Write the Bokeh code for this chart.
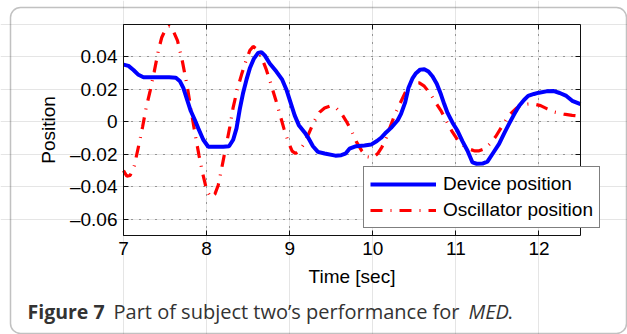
from bokeh.plotting import figure
from bokeh.models import (FixedTicker, LinearAxis, Legend, LegendItem, Label, Grid,
                          BoxAnnotation, ColumnDataSource, Range1d)
from bokeh.embed import file_html
from bokeh.resources import INLINE

# ---------------- data ----------------
device_t = [7.00, 7.06, 7.12, 7.18, 7.24, 7.40, 7.55, 7.63, 7.68, 7.72, 7.77, 7.81,
            7.86, 7.90, 7.96, 8.02, 8.10, 8.20, 8.27, 8.32, 8.36, 8.40, 8.44, 8.48,
            8.52, 8.57, 8.62, 8.66, 8.70, 8.76, 8.84, 8.91, 8.96, 9.01, 9.06, 9.11,
            9.18, 9.22, 9.28, 9.34, 9.42, 9.55, 9.62, 9.67, 9.72, 9.80, 9.90, 9.98,
            10.05, 10.10, 10.16, 10.22, 10.30, 10.34, 10.39, 10.43, 10.48, 10.52,
            10.57, 10.62, 10.67, 10.72, 10.77, 10.82, 10.86, 10.90, 10.96, 11.02,
            11.08, 11.14, 11.20, 11.25, 11.32, 11.38, 11.45, 11.52, 11.58, 11.64,
            11.70, 11.76, 11.82, 11.87, 11.94, 12.00, 12.09, 12.18, 12.25, 12.33,
            12.40, 12.50]
device_pos = [0.0353, 0.0345, 0.032, 0.029, 0.0275, 0.0275, 0.0275, 0.0272, 0.025,
              0.021, 0.013, 0.0067, 0.001, -0.004, -0.011, -0.0153, -0.0153, -0.0153,
              -0.0150, -0.011, -0.004, 0.008, 0.018, 0.026, 0.033, 0.039, 0.0425,
              0.043, 0.041, 0.036, 0.031, 0.026, 0.020, 0.012, 0.004, -0.002, -0.0065,
              -0.0095, -0.015, -0.0185, -0.0195, -0.0208, -0.0205, -0.0196, -0.0165,
              -0.0150, -0.0145, -0.014, -0.0118, -0.0098, -0.0065, -0.0037, 0.001,
              0.0049, 0.012, 0.021, 0.027, 0.030, 0.0322, 0.0324, 0.031, 0.028,
              0.0235, 0.017, 0.011, 0.0055, -0.0005, -0.0055, -0.012, -0.0178, -0.025,
              -0.0258, -0.0257, -0.0245, -0.019, -0.0135, -0.0072, -0.0012, 0.0045,
              0.0098, 0.0135, 0.016, 0.0172, 0.018, 0.0188, 0.019, 0.0178, 0.016,
              0.013, 0.011]

osc_t = [7.00, 7.04, 7.08, 7.13, 7.19, 7.23, 7.27, 7.32, 7.37, 7.42, 7.46, 7.51, 7.55,
         7.59, 7.65, 7.71, 7.77, 7.82, 7.86, 7.91, 7.95, 8.00, 8.05, 8.10, 8.14, 8.18,
         8.23, 8.28, 8.32, 8.37, 8.42, 8.47, 8.52, 8.56, 8.60, 8.66, 8.72, 8.77, 8.83,
         8.88, 8.93, 8.98, 9.03, 9.07, 9.12, 9.18, 9.24, 9.30, 9.36, 9.42, 9.49, 9.55,
         9.62, 9.68, 9.74, 9.80, 9.87, 9.93, 10.00, 10.06, 10.11, 10.16, 10.21, 10.27,
         10.33, 10.39, 10.45, 10.51, 10.56, 10.62, 10.69, 10.75, 10.82, 10.88, 10.95,
         11.02, 11.09, 11.15, 11.22, 11.28, 11.35, 11.41, 11.48, 11.54, 11.60, 11.66,
         11.73, 11.80, 11.87, 11.94, 12.02, 12.10, 12.19, 12.30, 12.40, 12.50]
osc_pos = [-0.030, -0.0335, -0.033, -0.027, -0.013, -0.003, 0.008, 0.019, 0.031, 0.044,
           0.052, 0.0575, 0.059, 0.057, 0.050, 0.037, 0.021, 0.005, -0.007, -0.021,
           -0.031, -0.042, -0.0465, -0.0445, -0.039, -0.029, -0.016, -0.003, 0.009,
           0.020, 0.029, 0.037, 0.044, 0.0465, 0.045, 0.040, 0.032, 0.024, 0.014,
           0.005, -0.004, -0.012, -0.018, -0.0195, -0.0175, -0.013, -0.006, 0.001,
           0.006, 0.0085, 0.0098, 0.009, 0.0055, 0.0005, -0.005, -0.012, -0.018,
           -0.0215, -0.022, -0.0195, -0.0155, -0.010, -0.003, 0.005, 0.0115, 0.018,
           0.0225, 0.024, 0.024, 0.022, 0.0175, 0.0125, 0.007, 0.001, -0.0055, -0.011,
           -0.0145, -0.0165, -0.0178, -0.0178, -0.0165, -0.0135, -0.009, -0.004, 0.001,
           0.005, 0.0085, 0.0105, 0.011, 0.011, 0.010, 0.008, 0.006, 0.0048, 0.004,
           0.0035]

x_lim = [7, 12.5]
y_lim = [-0.07, 0.06]
x_ticks = [7, 8, 9, 10, 11, 12]
y_ticks = [-0.06, -0.04, -0.02, 0, 0.02, 0.04]
y_tick_labels = ["\u20130.06", "\u20130.04", "\u20130.02", "0", "0.02", "0.04"]
series_names = ["Device position", "Oscillator position"]
x_label = "Time [sec]"
y_label = "Position"
caption_parts = ["Figure 7", "Part of subject two\u2019s performance for", "MED", "."]

# ---------------- layout (pixels) ----------------
W, H = 627, 334
BOX_L, BOX_R, BOX_T, BOX_B = 123, 580, 24, 235   # axes box on the canvas

xs = (BOX_R - BOX_L) / (x_lim[1] - x_lim[0])
ys = (BOX_B - BOX_T) / (y_lim[1] - y_lim[0])
x_range = Range1d(x_lim[0] - BOX_L / xs, x_lim[1] + (W - BOX_R) / xs)
y_range = Range1d(y_lim[0] - (H - BOX_B) / ys, y_lim[1] + BOX_T / ys)

FONT = "Liberation Sans"
p = figure(width=W, height=H, x_range=x_range, y_range=y_range,
           x_axis_location=None, y_axis_location=None,
           min_border=0, min_border_left=0, min_border_right=0,
           min_border_top=0, min_border_bottom=0,
           output_backend="svg", toolbar_location=None)
p.background_fill_color = "white"
p.border_fill_color = "white"
p.outline_line_color = None

AX = "#111111"


def style_axis(ax, labelled):
    ax.axis_line_color = AX
    ax.axis_line_width = 1
    ax.major_tick_line_color = AX
    ax.major_tick_in = 5
    ax.major_tick_out = 0
    ax.minor_tick_line_color = None
    if labelled:
        ax.major_label_text_font = FONT
        ax.major_label_text_font_size = "19px"
        ax.major_label_text_color = "black"
        ax.axis_label_text_font = FONT
        ax.axis_label_text_font_size = "19px"
        ax.axis_label_text_font_style = "normal"
        ax.axis_label_text_color = "black"
    else:
        ax.major_label_text_color = None


xaxis = LinearAxis(ticker=FixedTicker(ticks=x_ticks), fixed_location=y_lim[0],
                   bounds=tuple(x_lim), axis_label=x_label)
yaxis = LinearAxis(ticker=FixedTicker(ticks=y_ticks), fixed_location=x_lim[0],
                   bounds=tuple(y_lim), axis_label=y_label)
top_ax = LinearAxis(ticker=FixedTicker(ticks=x_ticks), fixed_location=y_lim[1],
                    bounds=tuple(x_lim))
right_ax = LinearAxis(ticker=FixedTicker(ticks=y_ticks), fixed_location=x_lim[1],
                      bounds=tuple(y_lim))
style_axis(xaxis, True)
style_axis(yaxis, True)
style_axis(top_ax, False)
style_axis(right_ax, False)
yaxis.major_label_overrides = {v: s for v, s in zip(y_ticks, y_tick_labels)}
xaxis.major_label_standoff = 6
xaxis.axis_label_standoff = 8
yaxis.major_label_standoff = 6
yaxis.axis_label_standoff = 8
p.add_layout(xaxis, "below")
p.add_layout(yaxis, "left")
p.add_layout(top_ax, "above")
p.add_layout(right_ax, "right")

xgrid = Grid(dimension=0, ticker=FixedTicker(ticks=x_ticks), bounds=tuple(x_lim),
             cross_bounds=tuple(y_lim))
ygrid = Grid(dimension=1, ticker=FixedTicker(ticks=y_ticks), bounds=tuple(y_lim),
             cross_bounds=tuple(x_lim))
for g in (xgrid, ygrid):
    g.grid_line_color = "#444444"
    g.grid_line_dash = "1 7"
    g.grid_line_width = 1
    p.add_layout(g)

src_d = ColumnDataSource(dict(t=device_t, v=device_pos))
src_o = ColumnDataSource(dict(t=osc_t, v=osc_pos))
r_osc = p.line("t", "v", source=src_o, line_color="#ff0000", line_width=3.2,
               line_dash="12 8 1 8")
r_dev = p.line("t", "v", source=src_d, line_color="#0000ff", line_width=4)

legend = Legend(items=[LegendItem(label=series_names[0], renderers=[r_dev]),
                       LegendItem(label=series_names[1], renderers=[r_osc])],
                location=(363, H - 228), margin=0, padding=6, spacing=4,
                glyph_width=66, glyph_height=22, label_standoff=7,
                label_text_font=FONT, label_text_font_size="19px",
                label_text_color="black", border_line_color="black",
                border_line_width=1, background_fill_color="white",
                background_fill_alpha=1)
p.add_layout(legend)

# outer rounded frame (screen units: from bottom-left of canvas)
frame = BoxAnnotation(left=10, right=626, top=H - 7, bottom=H - 333,
                      left_units="screen", right_units="screen",
                      top_units="screen", bottom_units="screen",
                      fill_alpha=0, fill_color=None, line_color="#333333",
                      line_width=1.5, border_radius=10)
p.add_layout(frame)

# caption
CAP = "Open Sans"
cap_x = [27, 113, 468, 507]
cap_styles = ["bold", "normal", "italic", "normal"]
cap_sizes = ["19.5px", "20px", "20px", "20px"]
for txt, xx, st, sz in zip(caption_parts, cap_x, cap_styles, cap_sizes):
    p.add_layout(Label(x=xx, y=H - 311, x_units="screen", y_units="screen", text=txt,
                       text_font=CAP, text_font_size=sz, text_font_style=st,
                       text_color="#333333", text_baseline="alphabetic",
                       text_align="left"))

open("out.html", "w").write(file_html(p, INLINE))
